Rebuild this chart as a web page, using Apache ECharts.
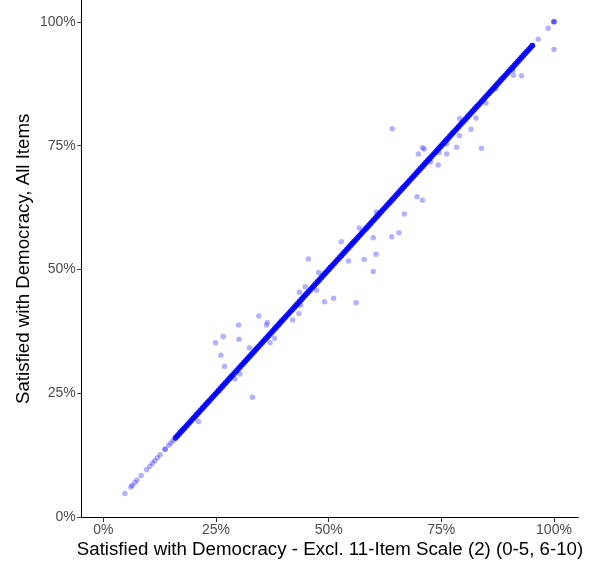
<!DOCTYPE html>
<html>
<head>
<meta charset="utf-8">
<script src="https://cdn.jsdelivr.net/npm/echarts@6/dist/echarts.min.js"></script>
<style>
html,body{margin:0;padding:0;background:#fff;}
#chart{width:590px;height:576px;}
</style>
</head>
<body>
<div id="chart"></div>
<script>
// Tick labels
const xTicks = [0, 25, 50, 75, 100];
const yTicks = [0, 25, 50, 75, 100];
const xTitle = 'Satisfied with Democracy - Excl. 11-Item Scale (2) (0-5, 6-10)';
const yTitle = 'Satisfied with Democracy, All Items';

// Sparse points lying on the diagonal (x = y), in %
const diagSparse = [4.8, 6.1, 6.4, 7.0, 7.5, 8.4, 9.6, 10.3, 10.9, 11.4, 12.0, 12.6, 13.7, 13.7, 14.5, 15.0, 15.5,
  95.2, 95.2, 96.5, 98.7, 100, 100, 100];

// Densely packed points on the diagonal (x = y), in %
const diagDense = [
16,16.4,16.8,17.2,17.6,18,18.4,18.8,19.2,19.6,
20,20.4,20.8,21.2,21.6,22,22.4,22.8,23.2,23.6,
24,24.4,24.8,25.2,25.6,26,26.4,26.8,27.2,27.6,
28,28.4,28.8,29.2,29.6,30,30.4,30.8,31.2,31.6,
32,32.4,32.8,33.2,33.6,34,34.4,34.8,35.2,35.6,
36,36.4,36.8,37.2,37.6,38,38.4,38.8,39.2,39.6,
40,40.4,40.8,41.2,41.6,42,42.4,42.8,43.2,43.6,
44,44.4,44.8,45.2,45.6,46,46.4,46.8,47.2,47.6,
48,48.4,48.8,49.2,49.6,50,50.4,50.8,51.2,51.6,
52,52.4,52.8,53.2,53.6,54,54.4,54.8,55.2,55.6,
56,56.4,56.8,57.2,57.6,58,58.4,58.8,59.2,59.6,
60,60.4,60.8,61.2,61.6,62,62.4,62.8,63.2,63.6,
64,64.4,64.8,65.2,65.6,66,66.4,66.8,67.2,67.6,
68,68.4,68.8,69.2,69.6,70,70.4,70.8,71.2,71.6,
72,72.4,72.8,73.2,73.6,74,74.4,74.8,75.2,75.6,
76,76.4,76.8,77.2,77.6,78,78.4,78.8,79.2,79.6,
80,80.4,80.8,81.2,81.6,82,82.4,82.8,83.2,83.6,
84,84.4,84.8,85.2,85.6,86,86.4,86.8,87.2,87.6,
88,88.4,88.8,89.2,89.6,90,90.4,90.8,91.2,91.6,
92,92.4,92.8,93.2,93.6,94,94.4,94.8,95.2
];

// Off-diagonal points: x (excl. scale) and y (all items), in %
const offX = [34.5, 30.0, 36.4, 36.2, 42.0, 43.4, 43.8, 24.9, 26.6, 30.1, 32.4, 37.0, 38.0, 26.1, 26.9, 29.2, 30.3, 33.1,
  69.6, 70.8, 66.8, 60.6, 56.8, 59.9, 64.0, 65.6, 52.8, 45.5, 54.4, 57.9, 60.5, 59.9, 47.8, 44.8, 47.3, 43.5, 49.1, 51.1, 56.1,
  64.1, 100, 90.9, 91.0, 92.8, 87.1, 84.9, 82.7, 79.1, 81.6, 79.0, 76.2, 78.4, 83.9, 70.8, 71.2, 69.9, 74.5, 76.2, 72.6, 74.3, 21.1];
const offY = [40.6, 38.8, 39.3, 38.8, 39.8, 41.1, 42.8, 35.2, 36.5, 35.9, 34.2, 35.2, 36.1, 32.7, 30.4, 27.9, 28.9, 24.2,
  64.7, 64.0, 61.2, 61.6, 58.4, 56.4, 56.6, 57.4, 55.6, 52.1, 51.7, 52.0, 53.1, 49.6, 49.4, 46.5, 45.8, 45.4, 43.5, 44.2, 43.3,
  78.4, 94.4, 90.2, 89.2, 89.1, 86.5, 83.6, 80.6, 80.5, 78.3, 77.0, 75.4, 74.7, 74.5, 74.6, 74.3, 73.3, 73.6, 73.3, 71.7, 71.1, 19.3];

const chart = echarts.init(document.getElementById('chart'), null, {renderer: 'canvas'});
const font = 'Liberation Sans, Arial, sans-serif';
const pct = v => v + '%';

const axisCommon = {
  type: 'value',
  axisLine: {show: true, onZero: false, lineStyle: {color: '#000', width: 1}},
  axisTick: {show: true, length: 4.4, lineStyle: {color: '#333', width: 1}},
  splitLine: {show: false},
  nameTextStyle: {color: '#000', fontSize: 18.7, fontFamily: font},
  nameLocation: 'middle',
  nameMoveOverlap: false
};

chart.setOption({
  animation: false,
  backgroundColor: '#fff',
  grid: {left: 81.7, right: 11.7, top: 0, bottom: 58.3, containLabel: false},
  xAxis: Object.assign({}, axisCommon, {
    min: -4.8, max: 105.4,
    name: xTitle, nameGap: 23,
    axisTick: Object.assign({}, axisCommon.axisTick, {customValues: xTicks}),
    axisLabel: {customValues: xTicks, formatter: pct, color: '#4D4D4D', fontSize: 14, fontFamily: font, margin: 5}
  }),
  yAxis: Object.assign({}, axisCommon, {
    min: -0.1, max: 104.4,
    name: yTitle, nameGap: 48, nameRotate: 90,
    axisTick: Object.assign({}, axisCommon.axisTick, {customValues: yTicks}),
    axisLabel: {customValues: yTicks, formatter: pct, color: '#4D4D4D', fontSize: 14, fontFamily: font, margin: 6}
  }),
  series: [
    {
      type: 'scatter', symbol: 'circle', symbolSize: 5.5, silent: true,
      itemStyle: {color: '#0000FF', opacity: 0.3},
      data: offX.map((x, i) => [x, offY[i]])
    },
    {
      type: 'scatter', symbol: 'circle', symbolSize: 5.5, silent: true,
      itemStyle: {color: '#0000FF', opacity: 0.3},
      data: diagSparse.map(v => [v, v])
    },
    {
      type: 'scatter', symbol: 'circle', symbolSize: 5.8, silent: true,
      itemStyle: {color: '#0000FF', opacity: 0.85},
      data: diagDense.map(v => [v, v])
    }
  ]
});
</script>
</body>
</html>
